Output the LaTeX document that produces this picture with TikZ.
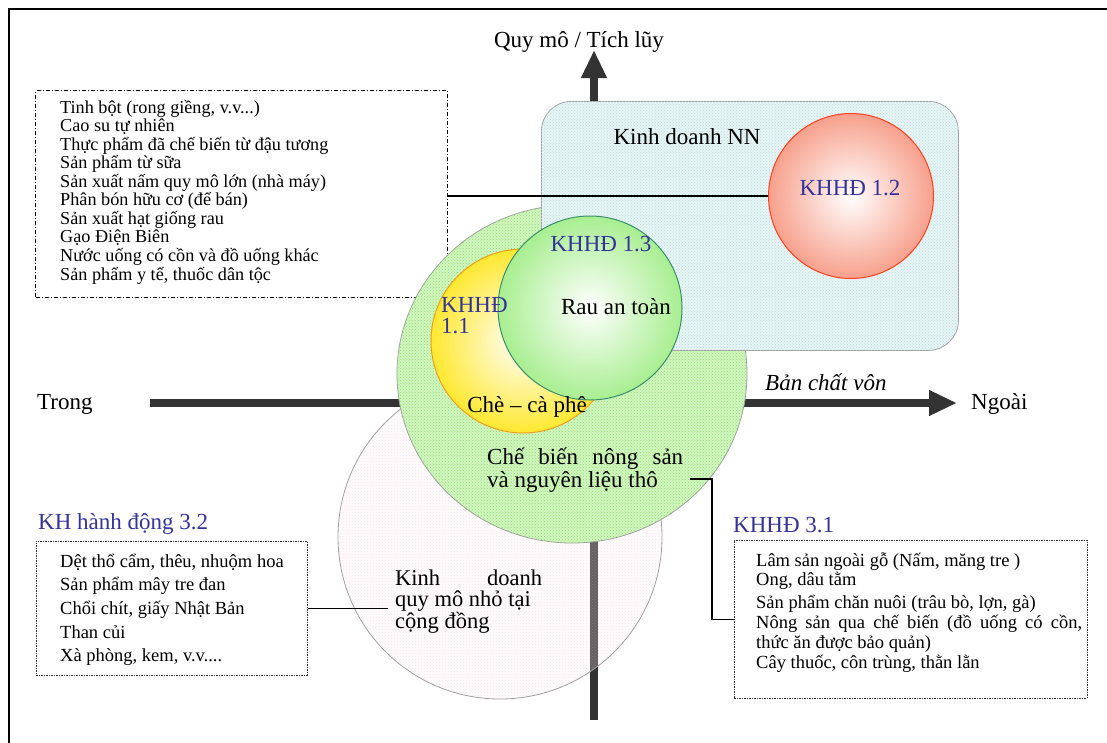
\documentclass[tikz,border=0pt]{standalone}
\usepackage{fontspec}
\setmainfont{Liberation Serif}
\usetikzlibrary{arrows.meta,patterns,shapes.geometric}

\definecolor{axisgray}{HTML}{333333}
\definecolor{planblue}{HTML}{33339A}
\definecolor{nnbase}{HTML}{E6F4F4}
\definecolor{nndots}{HTML}{BCDDE0}
\definecolor{cbbase}{HTML}{D2F5C0}
\definecolor{cbdots}{HTML}{8EE070}
\definecolor{kdbase}{HTML}{FDF0F4}
\definecolor{kddots}{HTML}{F2A6C2}
\definecolor{salmon}{HTML}{F7A08C}
\definecolor{salmonedge}{HTML}{FF4020}
\definecolor{sunny}{HTML}{FFE830}
\definecolor{sunnyedge}{HTML}{F0A020}
\definecolor{leaf}{HTML}{A8EE90}
\definecolor{leafedge}{HTML}{3A8F6A}
\definecolor{rimgray}{HTML}{A0A0A0}

\begin{document}
\begin{tikzpicture}[x=1pt,y=-1pt,
  lab/.style={inner sep=0pt, font=\fontsize{23}{25}\selectfont},
  blab/.style={lab, text=planblue},
  item/.style={inner sep=0pt, anchor=base west, font=\fontsize{18.2}{19}\selectfont},
  itemb/.style={inner sep=0pt, anchor=base west, font=\fontsize{18.5}{20}\selectfont},
  axis/.style={line width=8pt, draw=axisgray, -{Triangle[length=28pt,width=24pt]}},
  conn/.style={line width=1.5pt, draw=black},
  dashbox/.style={draw=black, line width=1pt, inner sep=0pt, anchor=north west,
    dash pattern=on 4pt off 2pt on 1pt off 2pt},
  dotbox/.style={draw=black!80, line width=0.9pt, inner sep=0pt, anchor=north west,
    dash pattern=on 2pt off 1pt on 1pt off 1pt},
  ball/.style={circle, inner sep=0pt, shading=radial, inner color=white, line width=1pt}
]
\useasboundingbox (0,0) rectangle (1107,742);

% outer frame
\draw[line width=2pt] (9,9) rectangle (1140,780);

% list of large-scale products
\node[dashbox, minimum width=412pt, minimum height=207pt] (listA) at (35,90) {};
\node[item] (a1) at (60,113.00) {Tinh bột (rong giềng, v.v...)};
\node[item] (a2) at (60,131.56) {Cao su tự nhiên};
\node[item] (a3) at (60,150.12) {Thực phẩm đã chế biến từ đậu tương};
\node[item] (a4) at (60,168.68) {Sản phẩm từ sữa};
\node[item] (a5) at (60,187.24) {Sản xuất nấm quy mô lớn (nhà máy)};
\node[item] (a6) at (60,205.80) {Phân bón hữu cơ (để bán)};
\node[item] (a7) at (60,224.36) {Sản xuất hạt giống rau};
\node[item] (a8) at (60,242.92) {Gạo Điện Biên};
\node[item] (a9) at (60,261.48) {Nước uống có cồn và đồ uống khác};
\node[item] (a10) at (60,280.04) {Sản phẩm y tế, thuốc dân tộc};

% axes
\coordinate (hs) at (150,403);
\coordinate (he) at (957,403);
\coordinate (vs) at (594,720);
\coordinate (ve) at (594,50);
\draw[axis] (hs) -- (he);
\draw[axis] (vs) -- (ve);

% small community business
\node[circle, inner sep=0pt, minimum size=324pt, draw=rimgray, line width=0.8pt,
  fill=kdbase, fill opacity=0.25, postaction={pattern=crosshatch dots, pattern color=kddots}]
  (kd) at (500,537) {};

% agricultural processing
\node[ellipse, inner sep=0pt, minimum width=350pt, minimum height=338pt,
  draw=rimgray, line width=0.8pt, fill=cbbase,
  postaction={pattern=crosshatch dots, pattern color=cbdots}]
  (cb) at (572,374) {};

% state business
\node[rectangle, rounded corners=30pt, anchor=north west, inner sep=0pt,
  minimum width=417pt, minimum height=249pt, draw=rimgray, line width=0.8pt,
  fill=nnbase, postaction={pattern=crosshatch dots, pattern color=nndots}]
  (nn) at (541,101) {};

% action plan circles
\node[ball, minimum size=184pt, outer color=sunny, draw=sunnyedge] (k11) at (523,341) {};
\node[ball, minimum size=184pt, outer color=leaf, draw=leafedge] (k13) at (590,308) {};
\node[ball, minimum size=165pt, outer color=salmon, draw=salmonedge] (k12) at (851,196) {};

% axis labels
\node[lab, anchor=base] (qm) at (579,47) {Quy mô / Tích lũy};
\node[lab, anchor=base west] (tr) at (37,409) {Trong};
\node[lab, anchor=base west] (ng) at (971,409) {Ngoài};
\node[lab, anchor=base west, font=\fontsize{23}{25}\selectfont\itshape] (bc) at (765,390) {Bản chất vôn};

% labels inside shapes
\node[lab, anchor=base] (nnt) at (687,144) {Kinh doanh NN};
\node[blab, anchor=base] (k12t) at (850,195) {KHHĐ 1.2};
\node[blab, anchor=base] (k13t) at (601,251) {KHHĐ 1.3};
\node[lab, anchor=base] (rau) at (616,314) {Rau an toàn};
\node[blab, anchor=base west] (k11a) at (441,312) {KHHĐ};
\node[blab, anchor=base west] (k11b) at (441,333) {1.1};
\node[lab, anchor=base] (che) at (527,412) {Chè – cà phê};
\node[lab, anchor=base west] (cb1) at (487,464) {\makebox[196pt][s]{Chế biến nông sản}};
\node[lab, anchor=base west] (cb2) at (487,487) {và nguyên liệu thô};
\node[lab, anchor=base west, font=\fontsize{22.5}{24}\selectfont] (kd1) at (395,585) {\makebox[147pt][s]{Kinh doanh}};
\node[lab, anchor=base west, font=\fontsize{22.5}{24}\selectfont] (kd2) at (395,606.5) {quy mô nhỏ tại};
\node[lab, anchor=base west, font=\fontsize{22.5}{24}\selectfont] (kd3) at (395,628) {cộng đồng};

% action plan 3.2
\node[blab, anchor=base west] (t32) at (38,529) {KH hành động 3.2};
\node[dotbox, minimum width=271pt, minimum height=134pt] (box32) at (36,541) {};
\node[itemb] (b1) at (60,567.0) {Dệt thổ cẩm, thêu, nhuộm hoa};
\node[itemb] (b2) at (60,590.7) {Sản phẩm mây tre đan};
\node[itemb] (b3) at (60,614.4) {Chổi chít, giấy Nhật Bản};
\node[itemb] (b4) at (60,638.1) {Than củi};
\node[itemb] (b5) at (60,661.8) {Xà phòng, kem, v.v....};

% action plan 3.1
\node[blab, anchor=base west] (t31) at (733,532) {KHHĐ 3.1};
\node[dotbox, minimum width=353pt, minimum height=158pt] (box31) at (734,540) {};
\node[itemb] (l1) at (756,566) {Lâm sản ngoài gỗ (Nấm, măng tre )};
\node[itemb] (l2) at (756,585) {Ong, dâu tằm};
\node[itemb] (l3) at (756,608) {Sản phẩm chăn nuôi (trâu bò, lợn, gà)};
\node[itemb] (l4) at (756,628) {\makebox[326pt][s]{Nông sản qua chế biến (đồ uống có cồn,}};
\node[itemb] (l5) at (756,648) {thức ăn được bảo quản)};
\node[itemb] (l6) at (756,668) {Cây thuốc, côn trùng, thằn lằn};

% connectors
\draw[conn] (listA.east |- k12.west) -- (k12.west);
\coordinate (kdin) at (388,608);
\draw[conn] (box32.east) -- (box32.east -| kdin);
\coordinate (cbout) at (690,479);
\draw[conn] (cbout) -- ++(22,0) |- (box31.west);
\end{tikzpicture}
\end{document}
